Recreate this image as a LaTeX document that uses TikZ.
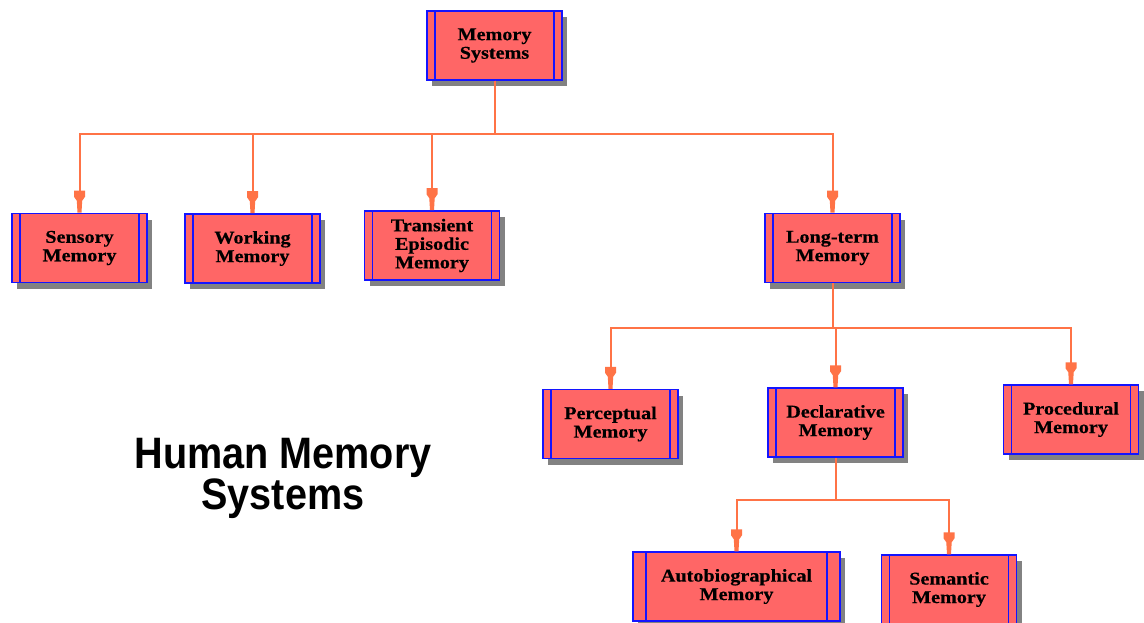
\documentclass[tikz,border=0pt]{standalone}
\usepackage{fontspec}
\setmainfont{Liberation Serif}[FakeStretch=1.12, FakeBold=0.5]
\newfontfamily\headfont{Liberation Sans}[FakeStretch=0.9]
\usetikzlibrary{arrows.meta,shadows}

\definecolor{boxfill}{RGB}{255,102,102}
\definecolor{boxline}{RGB}{20,20,255}
\definecolor{shadowgray}{RGB}{130,130,130}
\definecolor{linkcol}{RGB}{255,115,70}

% plug-shaped arrow head: wide square back, narrow stem to the tip
\pgfdeclarearrow{
  name = Plug,
  setup code = {
    \pgfarrowssettipend{0pt}
    \pgfarrowssetlineend{-10pt}
    \pgfarrowssetbackend{-22pt}
    \pgfarrowshullpoint{0pt}{2pt}
    \pgfarrowshullpoint{0pt}{-2pt}
    \pgfarrowsupperhullpoint{-22pt}{5.5pt}
  },
  drawing code = {
    \pgfpathmoveto{\pgfqpoint{0pt}{2pt}}
    \pgfpathlineto{\pgfqpoint{-12pt}{2.7pt}}
    \pgfpathlineto{\pgfqpoint{-16pt}{5.5pt}}
    \pgfpathlineto{\pgfqpoint{-22pt}{5.5pt}}
    \pgfpathlineto{\pgfqpoint{-22pt}{-5.5pt}}
    \pgfpathlineto{\pgfqpoint{-16pt}{-5.5pt}}
    \pgfpathlineto{\pgfqpoint{-12pt}{-2.7pt}}
    \pgfpathlineto{\pgfqpoint{0pt}{-2pt}}
    \pgfpathclose
    \pgfusepathqfill
  },
}

\tikzset{
  mem/.style={rectangle, draw=boxline, line width=1.5pt, fill=boxfill,
    minimum width=135pt, minimum height=69pt, inner sep=0pt, align=center,
    font=\bfseries\fontsize{18}{18.5}\selectfont,
    drop shadow={shadow xshift=5pt, shadow yshift=-6pt, fill=shadowgray, opacity=1},
    path picture={
      \draw[boxline, line width=1.5pt]
        ([xshift=#1]path picture bounding box.north west) --
        ([xshift=#1]path picture bounding box.south west)
        ([xshift=-#1]path picture bounding box.north east) --
        ([xshift=-#1]path picture bounding box.south east);
    }},
  mem/.default=8pt,
  link/.style={draw=linkcol, line width=2pt, -Plug},
  title/.style={align=center, inner sep=0pt,
    font=\headfont\bfseries\fontsize{44}{37}\selectfont}
}

\begin{document}
\begin{tikzpicture}[x=1pt, y=1pt]
  \fill[white] (0,0) rectangle (1144,-623);
  \useasboundingbox (0,0) rectangle (1144,-623);

  % boxes
  \node[mem] (ms)    at (494.5,-45.5) {Memory\\Systems};
  \node[mem] (sens)  at (79.5,-248)   {Sensory\\Memory};
  \node[mem] (work)  at (252.5,-248.5){Working\\Memory};
  \node[mem] (trans) at (432,-245.5)  {Transient\\Episodic\\Memory};
  \node[mem] (lt)    at (832.5,-248)  {Long-term\\Memory};
  \node[mem] (perc)  at (610.5,-424)  {Perceptual\\Memory};
  \node[mem] (decl)  at (835.5,-422.5){Declarative\\Memory};
  \node[mem] (proc)  at (1071,-419.5) {Procedural\\Memory};
  \node[mem=13pt, minimum width=207pt] (auto) at (736.5,-586.5) {Autobiographical\\Memory};
  \node[mem] (sem)   at (949,-589.5)  {Semantic\\Memory};

  % connectors
  \foreach \c in {sens,work,trans,lt}
    \draw[link] (ms.south) -- ++(0,-53) -| (\c.north);
  \foreach \c in {perc,decl,proc}
    \draw[link] (lt.south) -- ++(0,-45) -| (\c.north);
  \foreach \c in {auto,sem}
    \draw[link] (decl.south) -- ++(0,-42) -| (\c.north);

  % heading
  \node[title] (title) at (283,-478.5) {Human Memory\\Systems};
\end{tikzpicture}
\end{document}
